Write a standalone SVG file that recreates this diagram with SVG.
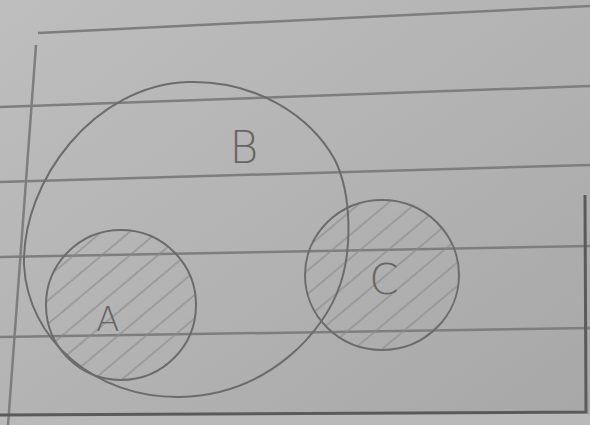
<svg xmlns="http://www.w3.org/2000/svg" width="590" height="425" viewBox="0 0 590 425">
<defs>
<linearGradient id="paper" x1="0" y1="0" x2="1" y2="1">
<stop offset="0" stop-color="#bebebe"/>
<stop offset="0.5" stop-color="#b3b3b3"/>
<stop offset="1" stop-color="#a7a7a7"/>
</linearGradient>
<pattern id="hatch" patternUnits="userSpaceOnUse" width="18" height="18" patternTransform="rotate(-40)">
<line x1="0" y1="9" x2="18" y2="9" stroke="#8c8c8c" stroke-width="1.2"/>
</pattern>
<clipPath id="clipA"><ellipse cx="121" cy="305" rx="75" ry="75"/></clipPath>
<clipPath id="clipC"><ellipse cx="382" cy="275" rx="77" ry="75"/></clipPath>
</defs>
<style>
.rule{stroke:#7e7e7e;stroke-width:2.5;fill:none}
.border{stroke:#5a5a5a;stroke-width:3;fill:none}
.set{fill:none;stroke:#6c6c6c;stroke-width:2}
.lbl{font-family:"DejaVu Sans","Liberation Sans",sans-serif;font-weight:200;fill:#666666}
</style>
<rect width="590" height="425" fill="url(#paper)"/>
<rect x="0" y="414" width="590" height="11" fill="#b9b9b9"/>
<g id="paper-lines">
<path class="rule" d="M38 33 L590 6" stroke-width="3"/>
<path class="rule" d="M0 107 L590 86"/>
<path class="rule" d="M0 182 L590 165"/>
<path class="rule" d="M0 257 L590 246"/>
<path class="rule" d="M0 337 L590 328"/>
<path class="rule" d="M36 45 L8 425" stroke-width="2"/>
<path class="border" d="M0 415 L586 412 L585 195"/>
</g>
<g id="hatching">
<rect x="40" y="225" width="165" height="165" fill="url(#hatch)" clip-path="url(#clipA)"/>
<rect x="300" y="195" width="165" height="165" fill="url(#hatch)" clip-path="url(#clipC)"/>
</g>
<g id="node-B">
<path class="set" d="M188 82 C255 80 310 115 335 160 C352 195 352 250 340 285 C325 330 270 395 180 397 C95 398 28 340 24 265 C22 180 95 85 188 82 Z"/>
<text class="lbl" x="244" y="163" font-size="44" text-anchor="middle">B</text>
</g>
<g id="node-A">
<ellipse class="set" cx="121" cy="305" rx="75" ry="75"/>
<text class="lbl" x="108" y="331" font-size="34" text-anchor="middle">A</text>
</g>
<g id="node-C">
<ellipse class="set" cx="382" cy="275" rx="77" ry="75"/>
<text class="lbl" x="384" y="294" font-size="42" text-anchor="middle">C</text>
</g>
<g id="connectors"/>
</svg>
